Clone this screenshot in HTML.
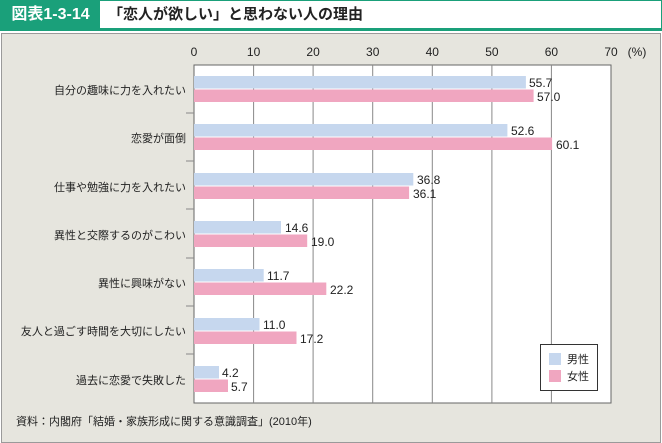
<!DOCTYPE html>
<html><head><meta charset="utf-8"><style>
body{margin:0;width:662px;height:443px;background:#fff;font-family:"Liberation Sans","Noto Sans CJK JP",sans-serif;position:relative;overflow:hidden}
.hd{position:absolute;left:0;top:0;width:660px;height:27px;border:1px solid #1aa07a;border-bottom:3px solid #1aa07a;background:#fff}
.tag{position:absolute;left:0;top:0;width:99px;height:27px;background:#1aa07a;color:#fff;font-weight:bold;font-size:16px;line-height:27px;text-align:center}
.ttl{position:absolute;left:107px;top:0;line-height:27px;font-size:15px;font-weight:bold;color:#222}
.panel{position:absolute;left:1px;top:33px;width:658px;height:408px;background:#e6e5de;border:1px solid #9a9a9a}
</style></head><body>
<div class="hd"><div class="tag">図表1-3-14</div><div class="ttl">「恋人が欲しい」と思わない人の理由</div></div>
<div class="panel"></div>
<svg style="position:absolute;left:0;top:0" width="662" height="443" font-family="Liberation Sans, Noto Sans CJK JP, sans-serif">
<rect x="194" y="65" width="417" height="338" fill="#fff" stroke="#666"/>
<g stroke="#888" stroke-width="1">
<line x1="253.6" y1="65" x2="253.6" y2="403"/><line x1="313.1" y1="65" x2="313.1" y2="403"/><line x1="372.7" y1="65" x2="372.7" y2="403"/><line x1="432.3" y1="65" x2="432.3" y2="403"/><line x1="491.9" y1="65" x2="491.9" y2="403"/><line x1="551.4" y1="65" x2="551.4" y2="403"/>
<line x1="186" y1="113" x2="194" y2="113"/><line x1="186" y1="161" x2="194" y2="161"/><line x1="186" y1="209" x2="194" y2="209"/><line x1="186" y1="258" x2="194" y2="258"/><line x1="186" y1="306" x2="194" y2="306"/><line x1="186" y1="354" x2="194" y2="354"/>
</g>
<g font-size="12" fill="#222" text-anchor="middle">
<text x="194" y="56">0</text><text x="253.6" y="56">10</text><text x="313.1" y="56">20</text><text x="372.7" y="56">30</text><text x="432.3" y="56">40</text><text x="491.9" y="56">50</text><text x="551.4" y="56">60</text><text x="611" y="56">70</text><text x="637" y="56">(%)</text>
</g>
<g font-size="11" fill="#222" text-anchor="end">
<text x="186" y="94">自分の趣味に力を入れたい</text>
<text x="186" y="142">恋愛が面倒</text>
<text x="186" y="191">仕事や勉強に力を入れたい</text>
<text x="186" y="239">異性と交際するのがこわい</text>
<text x="186" y="287">異性に興味がない</text>
<text x="186" y="335">友人と過ごす時間を大切にしたい</text>
<text x="186" y="384">過去に恋愛で失敗した</text>
</g>
<g id="bars"></g>
<g font-size="12" fill="#222">
<rect x="194" y="76" width="331.9" height="12.5" fill="#c6d7ee"/><rect x="194" y="89.5" width="339.6" height="12.5" fill="#f0a6c0"/><text x="529" y="87">55.7</text><text x="537" y="101">57.0</text>
<rect x="194" y="124" width="313.4" height="12.5" fill="#c6d7ee"/><rect x="194" y="137.5" width="358.1" height="12.5" fill="#f0a6c0"/><text x="511" y="135">52.6</text><text x="556" y="149">60.1</text>
<rect x="194" y="173" width="219.3" height="12.5" fill="#c6d7ee"/><rect x="194" y="186.5" width="215.1" height="12.5" fill="#f0a6c0"/><text x="417" y="184">36.8</text><text x="413" y="198">36.1</text>
<rect x="194" y="221" width="87" height="12.5" fill="#c6d7ee"/><rect x="194" y="234.5" width="113.2" height="12.5" fill="#f0a6c0"/><text x="285" y="232">14.6</text><text x="311" y="246">19.0</text>
<rect x="194" y="269" width="69.7" height="12.5" fill="#c6d7ee"/><rect x="194" y="282.5" width="132.3" height="12.5" fill="#f0a6c0"/><text x="267" y="280">11.7</text><text x="330" y="294">22.2</text>
<rect x="194" y="318" width="65.5" height="12.5" fill="#c6d7ee"/><rect x="194" y="331.5" width="102.5" height="12.5" fill="#f0a6c0"/><text x="263" y="329">11.0</text><text x="300" y="343">17.2</text>
<rect x="194" y="366" width="25" height="12.5" fill="#c6d7ee"/><rect x="194" y="379.5" width="34" height="12.5" fill="#f0a6c0"/><text x="222" y="377">4.2</text><text x="231" y="391">5.7</text>
</g>
<rect x="540.5" y="344.5" width="57" height="46" fill="#fff" stroke="#333"/>
<rect x="549" y="353" width="12" height="12" fill="#c6d7ee"/><rect x="549" y="370" width="12" height="12" fill="#f0a6c0"/>
<g font-size="11" fill="#222"><text x="567" y="363">男性</text><text x="567" y="380">女性</text></g>
<text x="16" y="425" font-size="11" fill="#222">資料：内閣府「結婚・家族形成に関する意識調査」(2010年)</text>
</svg>
</body></html>
